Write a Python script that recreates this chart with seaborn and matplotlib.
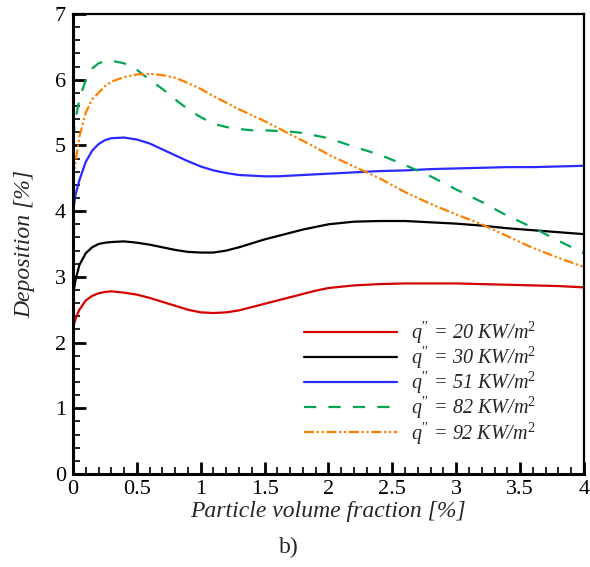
import numpy as np
import pandas as pd
import matplotlib
matplotlib.use("Agg")
import matplotlib.pyplot as plt
import seaborn as sns
from matplotlib.ticker import MultipleLocator, FuncFormatter

sns.set_theme(style="white")
plt.rcParams["font.family"] = ["Liberation Serif", "DejaVu Serif"]
plt.rcParams["mathtext.fontset"] = "custom"
plt.rcParams["mathtext.rm"] = "Liberation Serif"
plt.rcParams["mathtext.it"] = "Liberation Serif:italic"

# Particle volume fraction [%]
phi = [0.0, 0.02, 0.05, 0.1, 0.15, 0.2, 0.25, 0.3, 0.4, 0.5, 0.6, 0.7, 0.8, 0.9,
       1.0, 1.1, 1.2, 1.3, 1.4, 1.5, 1.6, 1.7, 1.8, 1.9, 2.0, 2.2, 2.4, 2.6,
       2.8, 3.0, 3.2, 3.4, 3.6, 3.8, 4.0]

# Deposition [%] for each heat flux
dep_20 = [2.22, 2.36, 2.50, 2.64, 2.71, 2.75, 2.77, 2.78, 2.76, 2.73, 2.68, 2.62,
          2.56, 2.50, 2.46, 2.45, 2.46, 2.49, 2.54, 2.59, 2.64, 2.69, 2.74, 2.79,
          2.83, 2.87, 2.89, 2.90, 2.90, 2.90, 2.89, 2.88, 2.87, 2.86, 2.84]
dep_30 = [2.72, 2.95, 3.18, 3.36, 3.45, 3.50, 3.52, 3.53, 3.54, 3.52, 3.49, 3.45,
          3.41, 3.38, 3.37, 3.37, 3.40, 3.45, 3.51, 3.57, 3.62, 3.67, 3.72, 3.76,
          3.80, 3.84, 3.85, 3.85, 3.83, 3.81, 3.78, 3.74, 3.71, 3.68, 3.65]
dep_51 = [4.00, 4.25, 4.47, 4.75, 4.92, 5.02, 5.08, 5.11, 5.12, 5.09, 5.03, 4.94,
          4.85, 4.76, 4.68, 4.62, 4.58, 4.55, 4.54, 4.53, 4.53, 4.54, 4.55, 4.56,
          4.57, 4.59, 4.61, 4.62, 4.64, 4.65, 4.66, 4.67, 4.67, 4.68, 4.69]
dep_82 = [5.10, 5.40, 5.70, 6.00, 6.17, 6.25, 6.28, 6.29, 6.25, 6.15, 6.00, 5.86,
          5.70, 5.55, 5.43, 5.33, 5.28, 5.25, 5.23, 5.23, 5.22, 5.21, 5.19, 5.15,
          5.11, 4.98, 4.86, 4.70, 4.53, 4.33, 4.14, 3.93, 3.75, 3.55, 3.36]
dep_92 = [4.45, 4.75, 5.13, 5.50, 5.70, 5.80, 5.90, 5.97, 6.04, 6.08, 6.09, 6.07,
          6.03, 5.95, 5.86, 5.75, 5.65, 5.55, 5.46, 5.37, 5.27, 5.17, 5.07, 4.97,
          4.86, 4.68, 4.50, 4.29, 4.11, 3.95, 3.80, 3.62, 3.44, 3.29, 3.15]

labels = [r"$q^{\prime\prime}$ = 20 KW/m$^{2}$",
          r"$q^{\prime\prime}$ = 30 KW/m$^{2}$",
          r"$q^{\prime\prime}$ = 51 KW/m$^{2}$",
          r"$q^{\prime\prime}$ = 82 KW/m$^{2}$",
          r"$q^{\prime\prime}$ = 92 KW/m$^{2}$"]
series = [dep_20, dep_30, dep_51, dep_82, dep_92]
colors = ["#d40000", "#000000", "#2a2aff", "#00a651", "#ff8000"]
styles = ["-", "-", "-", (0, (5.5, 5.5)), (0, (4.5, 1.2, 1.0, 1.2, 1.0, 1.2))]

fig = plt.figure(figsize=(5.9, 5.67), dpi=100)
ax = fig.add_axes([0.1237, 0.164, 0.866, 0.8113])

for ys, lab, c, ls in zip(series, labels, colors, styles):
    df = pd.DataFrame({"phi": phi, "dep": ys})
    sns.lineplot(data=df, x="phi", y="dep", ax=ax, color=c, linestyle=ls,
                 linewidth=1.6, label=lab)

ax.set_xlim(0, 4)
ax.set_ylim(0, 7)
ax.xaxis.set_major_locator(MultipleLocator(0.5))
ax.xaxis.set_minor_locator(MultipleLocator(0.1))
ax.yaxis.set_major_locator(MultipleLocator(1))
ax.yaxis.set_minor_locator(MultipleLocator(0.2))
ax.xaxis.set_major_formatter(FuncFormatter(lambda v, p: f"{v:g}"))
ax.yaxis.set_major_formatter(FuncFormatter(lambda v, p: f"{v:g}"))
ax.tick_params(which="both", direction="in", top=False, right=False,
               bottom=True, left=True, labelsize=16, colors="black")
ax.tick_params(which="major", length=9, width=2)
ax.tick_params(which="minor", length=5, width=1.2)
ax.tick_params(axis="x", which="major", pad=4)
ax.tick_params(axis="y", which="major", pad=5)

for side in ["left", "bottom"]:
    ax.spines[side].set_linewidth(2.2)
for side in ["top", "right"]:
    ax.spines[side].set_linewidth(1.6)
for s in ax.spines.values():
    s.set_color("black")

ax.set_xlabel("Particle volume fraction [%]", fontsize=17, style="italic", labelpad=2)
ax.set_ylabel("Deposition [%]", fontsize=17, style="italic", labelpad=14)

ax.legend(loc="upper left", bbox_to_anchor=(0.417, 0.375), frameon=False,
          handlelength=4.6, handletextpad=0.7, labelspacing=-0.05,
          prop={"style": "italic", "size": 14.5})

fig.text(0.49, 0.034, "b)", fontsize=17, ha="center", va="center")

fig.savefig("out.png", dpi=100)
